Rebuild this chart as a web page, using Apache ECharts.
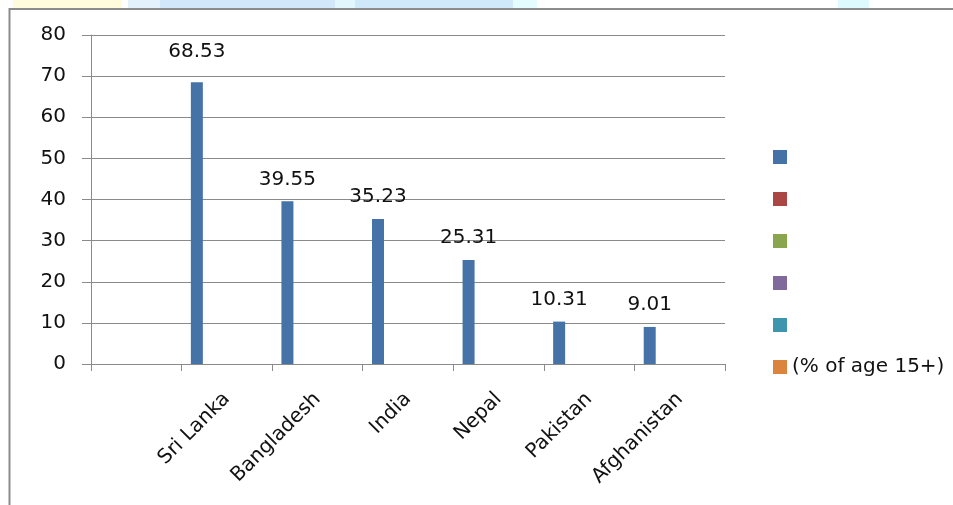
<!DOCTYPE html>
<html>
<head>
<meta charset="utf-8">
<script src="https://cdn.jsdelivr.net/npm/echarts@6/dist/echarts.min.js"></script>
<style>
  html, body { margin: 0; padding: 0; background: #ffffff; }
  #chart { width: 953px; height: 505px; }
</style>
</head>
<body>
<div id="chart"></div>
<script>
// Account ownership by country (% of age 15+)
const categories = ['', 'Sri Lanka', 'Bangladesh', 'India', 'Nepal', 'Pakistan', 'Afghanistan'];
const accountValues = [null, 68.53, 39.55, 35.23, 25.31, 10.31, 9.01];
const legendNames = ['s1', 's2', 's3', 's4', 's5', '(% of age 15+)'];
const seriesColors = ['#4572A7', '#AA4643', '#89A54E', '#80699B', '#3D96AE', '#DB843D'];
const yTicks = { min: 0, max: 80, step: 10 };

const FONT = 'DejaVu Sans';
const GRAY = '#8a8a8a';

// the first series carries the values; the others only appear in the legend
const series = legendNames.map((name, i) => {
  const data = i === 0
    ? accountValues.map((v, k) => (k === 1 ? { value: v, label: { distance: 20 } } : v))
    : categories.map(() => null);
  return {
    name: name,
    type: 'bar',
    data: data,
    barWidth: 12,
    barGap: '0%',
    itemStyle: { color: seriesColors[i] },
    label: {
      show: i === 0,
      position: 'top',
      distance: 12,
      fontFamily: FONT,
      fontSize: 20,
      color: '#111'
    },
    emphasis: { disabled: true }
  };
});

const chart = echarts.init(document.getElementById('chart'));
chart.setOption({
  animation: false,
  backgroundColor: '#ffffff',
  grid: { left: 91, top: 35, width: 634, height: 329 },
  legend: {
    orient: 'vertical',
    left: 768,
    top: 142,
    itemWidth: 14,
    itemHeight: 14,
    itemGap: 22,
    icon: 'rect',
    data: legendNames,
    formatter: name => (name.startsWith('(') ? name : ''),
    textStyle: { fontFamily: FONT, fontSize: 20, color: '#111', lineHeight: 20, height: 20 },
    selectedMode: false
  },
  xAxis: {
    type: 'category',
    data: categories,
    boundaryGap: true,
    axisLine: { lineStyle: { color: GRAY, width: 1 } },
    axisTick: { show: true, length: 7, interval: 0, lineStyle: { color: GRAY } },
    axisLabel: {
      interval: 0,
      rotate: 45,
      margin: 32,
      fontFamily: FONT,
      fontSize: 20,
      color: '#111'
    }
  },
  yAxis: {
    type: 'value',
    min: yTicks.min,
    max: yTicks.max,
    interval: yTicks.step,
    axisLine: { show: true, lineStyle: { color: GRAY, width: 1 } },
    axisTick: { show: true, length: 9, lineStyle: { color: GRAY } },
    splitLine: { lineStyle: { color: GRAY, width: 1 } },
    axisLabel: { margin: 25, fontFamily: FONT, fontSize: 20, color: '#111' }
  },
  graphic: [
    // pale strip along the top edge
    { type: 'rect', shape: { x: 13, y: 0, width: 109, height: 8 }, style: { fill: '#FFFBDC' }, silent: true },
    { type: 'rect', shape: { x: 128, y: 0, width: 32, height: 8 }, style: { fill: '#E2F1FC' }, silent: true },
    { type: 'rect', shape: { x: 160, y: 0, width: 175, height: 8 }, style: { fill: '#D2E8FA' }, silent: true },
    { type: 'rect', shape: { x: 335, y: 0, width: 20, height: 8 }, style: { fill: '#E2F6FE' }, silent: true },
    { type: 'rect', shape: { x: 355, y: 0, width: 158, height: 8 }, style: { fill: '#D0E9FA' }, silent: true },
    { type: 'rect', shape: { x: 513, y: 0, width: 24, height: 8 }, style: { fill: '#E4FCFF' }, silent: true },
    { type: 'rect', shape: { x: 838, y: 0, width: 31, height: 8 }, style: { fill: '#DCFAFF' }, silent: true },
    // chart frame
    { type: 'rect', shape: { x: 9.5, y: 9, width: 960, height: 520 }, style: { fill: null, stroke: '#8c8c8c', lineWidth: 2 }, silent: true }
  ],
  series: series
});
</script>
</body>
</html>
